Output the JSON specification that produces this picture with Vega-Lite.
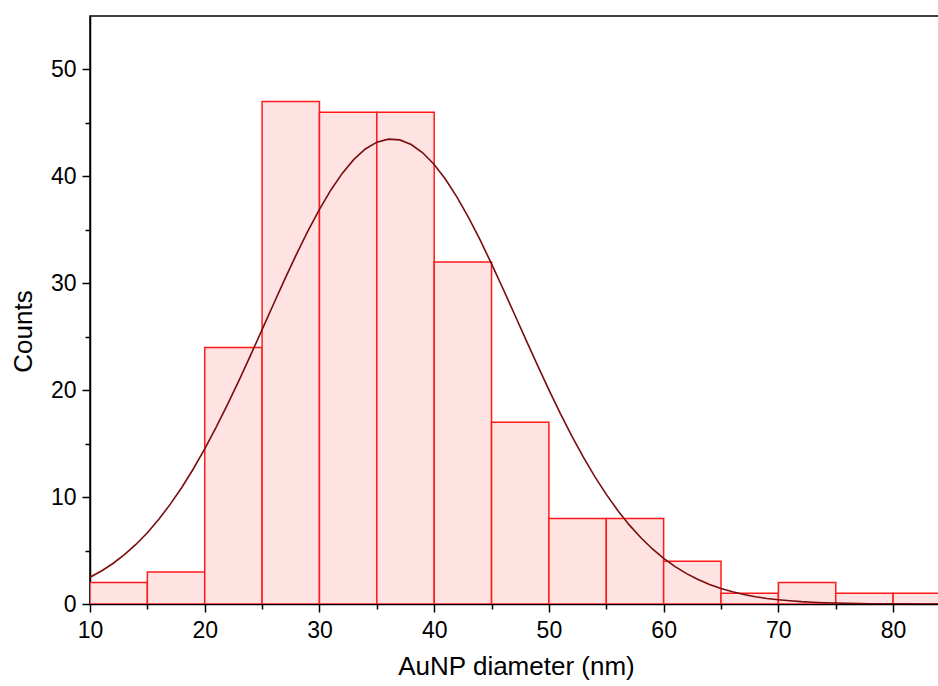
{
  "$schema": "https://vega.github.io/schema/vega-lite/v6.json",
  "autosize": {"type": "none"},
  "padding": {"left": 90, "top": 16, "right": 0, "bottom": 82},
  "width": 849,
  "height": 588,
  "config": {
    "view": {"stroke": "#000000", "strokeWidth": 1.5},
    "font": "Liberation Sans",
    "axis": {
      "domainColor": "#000000",
      "domainWidth": 1.5,
      "tickColor": "#000000",
      "tickWidth": 1.5,
      "labelColor": "#000000",
      "titleColor": "#000000",
      "labelFont": "Liberation Sans",
      "titleFont": "Liberation Sans",
      "labelFontSize": 23,
      "titleFontSize": 26,
      "titleFontWeight": "normal",
      "grid": false
    }
  },
  "datasets": {
    "bars": [
      {"bin_start": 10, "bin_end": 15, "count": 2},
      {"bin_start": 15, "bin_end": 20, "count": 3},
      {"bin_start": 20, "bin_end": 25, "count": 24},
      {"bin_start": 25, "bin_end": 30, "count": 47},
      {"bin_start": 30, "bin_end": 35, "count": 46},
      {"bin_start": 35, "bin_end": 40, "count": 46},
      {"bin_start": 40, "bin_end": 45, "count": 32},
      {"bin_start": 45, "bin_end": 50, "count": 17},
      {"bin_start": 50, "bin_end": 55, "count": 8},
      {"bin_start": 55, "bin_end": 60, "count": 8},
      {"bin_start": 60, "bin_end": 65, "count": 4},
      {"bin_start": 65, "bin_end": 70, "count": 1},
      {"bin_start": 70, "bin_end": 75, "count": 2},
      {"bin_start": 75, "bin_end": 80, "count": 1},
      {"bin_start": 80, "bin_end": 85, "count": 1}
    ],
    "fit": [
      {"d": 10, "c": 2.50}, {"d": 11, "c": 3.09}, {"d": 12, "c": 3.79}, {"d": 13, "c": 4.62},
      {"d": 14, "c": 5.57}, {"d": 15, "c": 6.67}, {"d": 16, "c": 7.93}, {"d": 17, "c": 9.34},
      {"d": 18, "c": 10.90}, {"d": 19, "c": 12.63}, {"d": 20, "c": 14.51}, {"d": 21, "c": 16.54},
      {"d": 22, "c": 18.69}, {"d": 23, "c": 20.94}, {"d": 24, "c": 23.28}, {"d": 25, "c": 25.67},
      {"d": 26, "c": 28.06}, {"d": 27, "c": 30.43}, {"d": 28, "c": 32.73}, {"d": 29, "c": 34.90},
      {"d": 30, "c": 36.92}, {"d": 31, "c": 38.73}, {"d": 32, "c": 40.30}, {"d": 33, "c": 41.59},
      {"d": 34, "c": 42.56}, {"d": 35, "c": 43.20}, {"d": 36, "c": 43.48}, {"d": 37, "c": 43.41},
      {"d": 38, "c": 42.98}, {"d": 39, "c": 42.21}, {"d": 40, "c": 41.11}, {"d": 41, "c": 39.71},
      {"d": 42, "c": 38.04}, {"d": 43, "c": 36.14}, {"d": 44, "c": 34.05}, {"d": 45, "c": 31.82},
      {"d": 46, "c": 29.49}, {"d": 47, "c": 27.10}, {"d": 48, "c": 24.71}, {"d": 49, "c": 22.34},
      {"d": 50, "c": 20.03}, {"d": 51, "c": 17.81}, {"d": 52, "c": 15.71}, {"d": 53, "c": 13.74},
      {"d": 54, "c": 11.92}, {"d": 55, "c": 10.25}, {"d": 56, "c": 8.75}, {"d": 57, "c": 7.40},
      {"d": 58, "c": 6.22}, {"d": 59, "c": 5.17}, {"d": 60, "c": 4.27}, {"d": 61, "c": 3.50},
      {"d": 62, "c": 2.84}, {"d": 63, "c": 2.29}, {"d": 64, "c": 1.83}, {"d": 65, "c": 1.45},
      {"d": 66, "c": 1.14}, {"d": 67, "c": 0.88}, {"d": 68, "c": 0.68}, {"d": 69, "c": 0.52},
      {"d": 70, "c": 0.40}, {"d": 71, "c": 0.30}, {"d": 72, "c": 0.22}, {"d": 73, "c": 0.17},
      {"d": 74, "c": 0.12}, {"d": 75, "c": 0.09}, {"d": 76, "c": 0.06}, {"d": 77, "c": 0.04},
      {"d": 78, "c": 0.03}, {"d": 79, "c": 0.02}, {"d": 80, "c": 0.01}, {"d": 81, "c": 0.01},
      {"d": 82, "c": 0.005}, {"d": 83, "c": 0.0}, {"d": 84, "c": 0.0}
    ]
  },
  "layer": [
    {
      "data": {"name": "bars"},
      "mark": {"type": "bar", "fill": "#ffe2e2", "stroke": "#ff1a1a", "strokeWidth": 1.5, "clip": true},
      "encoding": {
        "x": {
          "field": "bin_start", "type": "quantitative",
          "scale": {"domain": [10, 84], "nice": false, "zero": false},
          "axis": {
            "title": "AuNP diameter (nm)",
            "values": [10, 15, 20, 25, 30, 35, 40, 45, 50, 55, 60, 65, 70, 75, 80],
            "labelExpr": "datum.value % 10 === 0 ? datum.label : ''",
            "tickSize": {"condition": {"test": "datum.value % 10 === 0", "value": 8}, "value": 5},
            "labelPadding": 7,
            "titleX": 426,
            "titleY": 70,
            "titleAlign": "center",
            "titleBaseline": "alphabetic",
            "labelFlush": false
          }
        },
        "x2": {"field": "bin_end"},
        "y": {
          "field": "count", "type": "quantitative",
          "scale": {"domain": [0, 55], "nice": false},
          "axis": {
            "title": "Counts",
            "values": [0, 5, 10, 15, 20, 25, 30, 35, 40, 45, 50],
            "labelExpr": "datum.value % 10 === 0 ? datum.label : ''",
            "tickSize": {"condition": {"test": "datum.value % 10 === 0", "value": 8}, "value": 5},
            "labelPadding": 6,
            "titleX": -67,
            "titleY": 315,
            "titleAlign": "center",
            "titleBaseline": "middle",
            "labelFlush": false
          }
        },
        "y2": {"datum": 0}
      }
    },
    {
      "data": {"name": "fit"},
      "mark": {"type": "line", "color": "#7a0c0c", "strokeWidth": 1.6, "clip": true},
      "encoding": {
        "x": {"field": "d", "type": "quantitative"},
        "y": {"field": "c", "type": "quantitative"}
      }
    }
  ]
}
